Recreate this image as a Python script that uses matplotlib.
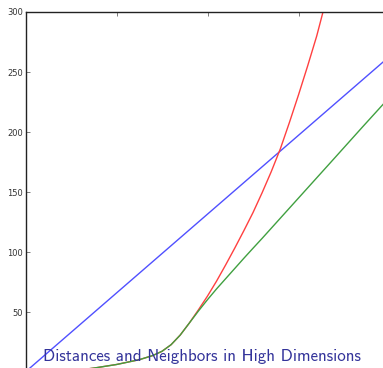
"""Distance growth curves for the high-dimensions slide."""

import matplotlib
import matplotlib.pyplot as plt

matplotlib.use("agg")

# curve samples (x in axis units, y in distance units)
linear_x = [0.0, 4.0]
linear_y = [0.4, 263.0]

fast_x = [0.3, 0.5, 0.75, 1.0, 1.25, 1.4, 1.5, 1.6, 1.7, 1.8, 1.9, 2.0, 2.1,
          2.2, 2.3, 2.4, 2.5, 2.6, 2.7, 2.8, 2.9, 3.0, 3.1, 3.2, 3.3, 3.4]
fast_y = [0.0, 1.0, 3.5, 6.5, 10.5, 14.0, 17.5, 23.0, 31.0, 41.0, 52.0, 63.5,
          76.0, 89.5, 103.5, 118.0, 133.0, 149.5, 167.0, 186.0, 208.0, 231.0,
          255.0, 280.0, 309.0, 337.0]

slow_x = [0.3, 0.5, 0.75, 1.0, 1.25, 1.4, 1.5, 1.6, 1.7, 1.8, 1.9, 2.0, 2.1,
          2.2, 2.3, 2.4, 2.5, 2.6, 2.8, 3.1, 3.4, 3.7, 4.0]
slow_y = [0.0, 1.0, 3.5, 6.5, 10.5, 14.0, 17.5, 23.0, 31.0, 41.0, 51.0, 60.5,
          69.5, 78.0, 86.5, 95.0, 103.3, 111.5, 128.3, 153.5, 178.7, 204.0,
          229.0]

xticks = [0, 1, 2, 3, 4]
yticks = [50, 100, 150, 200, 250, 300]
title = "Distances and Neighbors in High Dimensions"

fig = plt.figure(figsize=(3.83, 3.68), dpi=100)
ax = fig.add_axes([0.0666, -0.0117, 0.9504, 0.9791])

ax.plot(linear_x, linear_y, color="#5050ff", lw=1.0)
ax.plot(fast_x, fast_y, color="#ff4040", lw=1.0)
ax.plot(slow_x, slow_y, color="#40a040", lw=1.0)

ax.set_xlim(0, 4.0)
ax.set_ylim(0, 300)
ax.set_xticks(xticks)
ax.set_yticks(yticks)
ax.tick_params(direction="in", length=3, width=0.6, top=True, right=True,
               labelsize=6, labelcolor="#333333", color="#666666", pad=2)
for side in ["top", "left", "right", "bottom"]:
    ax.spines[side].set_linewidth(1.0)
    ax.spines[side].set_color("#222222")

fig.text(43 / 383, 1 - 361 / 368, title, fontsize=12.2, family="cmss10",
         color="#33339a", va="baseline", ha="left")

fig.savefig("out.png", dpi=100)
plt.close()
